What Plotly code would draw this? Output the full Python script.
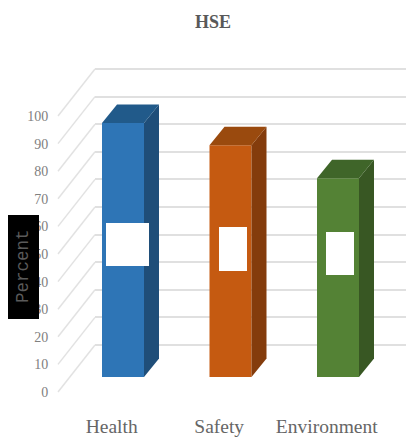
import plotly.graph_objects as go

PAGE_MARGIN = 8
W, H = 424, 447 - 2 * PAGE_MARGIN
categories = ["Health", "Safety", "Environment"]
values = [92, 84, 72]
y_ticks = [0, 10, 20, 30, 40, 50, 60, 70, 80, 90, 100]
front_colors = ["#2e75b6", "#c55a11", "#548235"]
side_colors = ["#1f4e79", "#843c0c", "#385723"]
top_colors = ["#215a8a", "#9a4a0e", "#3f6529"]

# pixel geometry of the oblique projection (window pixels)
PLOT_L, PLOT_R, PLOT_T, PLOT_B = 52, W + PAGE_MARGIN, 40, 400
PX_PER_VAL = 2.76
BAR_BASE_PX = 377
FRONT_ZERO_PX = 392
WALL_ZERO_PX = 345
CAT0_PX = 123
CAT_STEP_PX = 107.5
FRONT_X_PX = 58
WALL_X_PX = 95
BAR_W = 42 / CAT_STEP_PX
DX = 15 / CAT_STEP_PX
DY = 18.5 / PX_PER_VAL
LABEL_SHIFT = 0.105


def xunit(px):
    return (px - CAT0_PX) / CAT_STEP_PX


def yrange(zero_px):
    return [(zero_px - PLOT_B) / PX_PER_VAL, (zero_px - PLOT_T) / PX_PER_VAL]


def fx(px):
    return (px - PAGE_MARGIN) / W


def fy(px):
    return 1 - (px - PAGE_MARGIN) / H


fig = go.Figure()

# slanted floor/wall lines, from the tick value in front to the same value on the wall
xs, ys = [], []
wall_lift = (FRONT_ZERO_PX - WALL_ZERO_PX) / PX_PER_VAL
for v in y_ticks:
    xs += [xunit(FRONT_X_PX), xunit(WALL_X_PX), None]
    ys += [v, v + wall_lift, None]
fig.add_trace(go.Scatter(x=xs, y=ys, xaxis="x2", yaxis="y3", mode="lines",
                         line=dict(color="#e2e2e2", width=1.5), hoverinfo="skip", showlegend=False))

# wall gridlines come from the wall axis
fig.add_trace(go.Scatter(x=[0], y=[0], xaxis="x", yaxis="y", mode="markers",
                         marker=dict(opacity=0), hoverinfo="skip", showlegend=False))

for i, v in enumerate(values):
    l, r = i - BAR_W / 2, i + BAR_W / 2
    fig.add_trace(go.Scatter(x=[r, r + DX, r + DX, r, r], y=[0, DY, v + DY, v, 0],
                             xaxis="x2", yaxis="y2", mode="lines", fill="toself",
                             fillcolor=side_colors[i], line=dict(width=0),
                             hoverinfo="skip", showlegend=False))
    fig.add_trace(go.Scatter(x=[l, l + DX, r + DX, r, l], y=[v, v + DY, v + DY, v, v],
                             xaxis="x2", yaxis="y2", mode="lines", fill="toself",
                             fillcolor=top_colors[i], line=dict(width=0),
                             hoverinfo="skip", showlegend=False))

fig.add_trace(go.Bar(x=list(range(3)), y=values, width=BAR_W, xaxis="x2", yaxis="y2",
                     marker=dict(color=front_colors, line=dict(width=0)), showlegend=False))

dom_x_wall = [fx(WALL_X_PX), 1]
dom_x = [fx(PLOT_L), 1]
dom_y = [fy(PLOT_B), fy(PLOT_T)]

# white boxes and the black axis-title box
boxes = [(106, 223, 149, 266), (219, 227, 247, 271), (326, 232, 354, 275)]
shapes = [dict(type="rect", xref="paper", yref="paper", x0=fx(a), x1=fx(c), y0=fy(d), y1=fy(b),
               fillcolor="white", line=dict(width=0), layer="above") for a, b, c, d in boxes]
shapes.append(dict(type="rect", xref="paper", yref="paper", x0=fx(8), x1=fx(39), y0=fy(319), y1=fy(215),
                   fillcolor="black", line=dict(width=0), layer="above"))

fig.update_layout(
    width=W, height=H, autosize=False,
    margin=dict(l=0, r=0, t=0, b=0),
    paper_bgcolor="white", plot_bgcolor="rgba(0,0,0,0)",
    barmode="overlay",
    title=dict(text="<b>HSE</b>", x=fx(213), xanchor="center", y=fy(22), yanchor="middle",
               font=dict(family="Liberation Serif", size=18, color="#595959")),
    xaxis=dict(domain=dom_x_wall, range=[0, 1], visible=False, anchor="y"),
    yaxis=dict(domain=dom_y, range=yrange(WALL_ZERO_PX), anchor="x", tickmode="array", tickvals=y_ticks,
               showgrid=True, gridcolor="#e0e0e0", gridwidth=2, showticklabels=False,
               ticks="", zeroline=False, showline=False),
    xaxis2=dict(domain=dom_x, range=[xunit(PLOT_L), xunit(PLOT_R)], anchor="y2",
                tickmode="array", tickvals=[i - LABEL_SHIFT for i in range(3)], ticktext=categories,
                showgrid=False, zeroline=False,
                ticks="outside", ticklen=9, tickcolor="rgba(0,0,0,0)",
                tickfont=dict(family="Liberation Serif", size=19.5, color="#666666")),
    yaxis2=dict(domain=dom_y, range=yrange(BAR_BASE_PX), anchor="x2", visible=False),
    yaxis3=dict(domain=dom_y, range=yrange(FRONT_ZERO_PX), anchor="x2", overlaying="y2", side="left",
                tickmode="array", tickvals=y_ticks, showgrid=False, zeroline=False, showline=False,
                ticks="outside", ticklen=0, tickcolor="rgba(0,0,0,0)",
                tickfont=dict(family="Liberation Serif", size=14, color="#808080")),
    shapes=shapes,
    annotations=[dict(text="Percent", xref="paper", yref="paper", x=fx(23), y=fy(266), showarrow=False,
                      xanchor="center", yanchor="middle",
                      textangle=-90, font=dict(family="Liberation Mono", size=17.5, color="#5a5a5a"))],
)

fig.write_html("out.html")
